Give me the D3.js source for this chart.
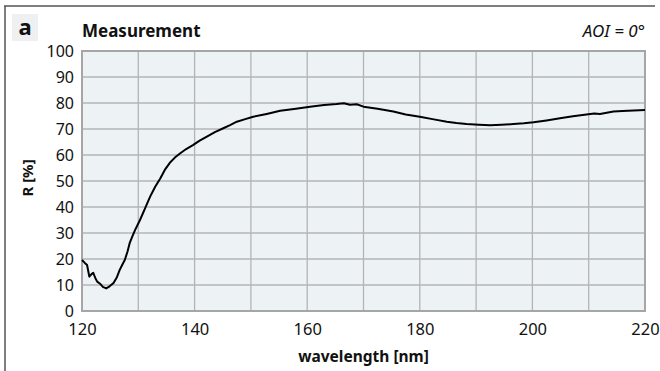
<!DOCTYPE html>
<html>
<head>
<meta charset="utf-8">
<script src="https://cdn.jsdelivr.net/npm/d3@7"></script>
<style>
  body { margin: 0; background: #fff; }
  svg { display: block; font-family: 'Noto Sans', 'Open Sans', sans-serif; }
</style>
</head>
<body>
<script>
// wavelength in nm, reflectance in %
const wavelength = [120, 120.5, 120.9, 121.3, 121.7, 122.0, 122.4, 122.7, 123.2, 123.7, 124.3, 124.9, 125.6, 126.2, 126.7, 127.2, 127.6, 128.1, 128.5, 129.0, 129.4, 130.3, 131.2, 132.1, 133.0, 133.9, 134.8, 135.6, 136.5, 137.4, 138.5, 139.7, 140.9, 142.1, 143.6, 145.1, 146.3, 147.5, 149.0, 150.4, 152.8, 155.2, 158.0, 160.5, 163.0, 165.2, 166.5, 167.6, 168.8, 170.0, 172.5, 175.3, 177.5, 180.0, 182.5, 184.8, 186.5, 188.3, 190.5, 192.5, 194.5, 196.6, 198.5, 200.2, 202.5, 204.9, 207.2, 209.6, 211.0, 212.0, 214.4, 216.0, 218.0, 220.0]
const reflectance = [19.6, 18.5, 17.7, 13.2, 14.2, 14.7, 12.5, 11.3, 10.5, 9.3, 8.7, 9.5, 10.8, 13.0, 15.8, 18.0, 19.6, 23.0, 26.3, 29.0, 31.0, 35.0, 39.5, 44.0, 47.8, 51.0, 54.6, 57.0, 59.0, 60.6, 62.3, 63.8, 65.5, 67.0, 68.8, 70.3, 71.5, 72.8, 73.8, 74.7, 75.8, 77.0, 77.8, 78.6, 79.2, 79.6, 79.9, 79.3, 79.5, 78.6, 77.8, 76.7, 75.6, 74.7, 73.7, 72.8, 72.3, 71.9, 71.6, 71.4, 71.6, 71.9, 72.2, 72.6, 73.3, 74.1, 74.9, 75.6, 76.0, 75.8, 76.7, 76.9, 77.1, 77.3]
const xTicks = [120, 140, 160, 180, 200, 220]
const xGrid = [130, 150, 170, 190, 210]
const yTicks = [0, 10, 20, 30, 40, 50, 60, 70, 80, 90, 100]

const width = 660
const height = 371
const plotL = 82, plotR = 645, plotT = 51, plotB = 311

const svg = d3.select('body').append('svg')
  .attr('width', width)
  .attr('height', height)

// frame
svg.append('line').attr('x1', 4).attr('x2', 655).attr('y1', 6).attr('y2', 6)
  .style('stroke', '#555').style('stroke-width', 1.5)
svg.append('line').attr('x1', 5).attr('x2', 5).attr('y1', 6).attr('y2', height)
  .style('stroke', '#555').style('stroke-width', 1.5)

// panel letter
svg.append('rect').attr('x', 12).attr('y', 14).attr('width', 26).attr('height', 27)
  .style('fill', '#eef0f2')
svg.append('text').attr('x', 25).attr('y', 35).text('a')
  .style('font-size', '22px').style('font-weight', 700).style('text-anchor', 'middle').style('fill', '#111')

svg.append('text').attr('x', 82).attr('y', 37).text('Measurement')
  .style('font-size', '17px').style('font-weight', 700).style('fill', '#111')
svg.append('text').attr('x', 645).attr('y', 37).text('AOI = 0°')
  .style('font-size', '17px').style('font-style', 'italic').style('text-anchor', 'end').style('fill', '#111')

const x = d3.scaleLinear().domain([120, 220]).range([plotL, plotR])
const y = d3.scaleLinear().domain([0, 100]).range([plotB, plotT])

svg.append('rect')
  .attr('x', plotL).attr('y', plotT)
  .attr('width', plotR - plotL).attr('height', plotB - plotT)
  .style('fill', '#edf2f5')

const grid = svg.append('g').style('stroke', '#b4b4b4').style('stroke-width', 1.3)
grid.selectAll('.gx').data(xTicks.concat(xGrid)).enter().append('line')
  .attr('x1', d => x(d)).attr('x2', d => x(d)).attr('y1', plotT).attr('y2', plotB)
grid.selectAll('.gy').data(yTicks).enter().append('line')
  .attr('x1', plotL).attr('x2', plotR).attr('y1', d => y(d)).attr('y2', d => y(d))

svg.append('rect')
  .attr('x', plotL).attr('y', plotT)
  .attr('width', plotR - plotL).attr('height', plotB - plotT)
  .style('fill', 'none').style('stroke', '#a6a6a6').style('stroke-width', 2)

const xAxis = svg.append('g')
  .attr('transform', `translate(0, ${plotB + 10})`)
  .call(d3.axisBottom(x).tickValues(xTicks).tickSize(0).tickPadding(2))
xAxis.select('.domain').remove()
xAxis.selectAll('text').style('font-size', '16.5px').style('fill', '#111')
  .style('font-family', "'Noto Sans', sans-serif")

const yAxis = svg.append('g')
  .attr('transform', `translate(${plotL - 8}, 0)`)
  .call(d3.axisLeft(y).tickValues(yTicks).tickSize(0).tickPadding(0))
yAxis.select('.domain').remove()
yAxis.selectAll('text').style('font-size', '16px').style('fill', '#111')
  .style('font-family', "'Noto Sans', sans-serif")

svg.append('text').attr('x', (plotL + plotR) / 2).attr('y', 362).text('wavelength [nm]')
  .style('font-size', '15.5px').style('font-weight', 700).style('text-anchor', 'middle').style('fill', '#111')
svg.append('text')
  .attr('transform', `translate(33, ${(plotT + plotB) / 2 - 3}) rotate(-90)`)
  .text('R [%]')
  .style('font-size', '15px').style('font-weight', 700).style('text-anchor', 'middle').style('fill', '#111')

const line = d3.line()
  .x((d, i) => x(wavelength[i]))
  .y(d => y(d))
  .curve(d3.curveLinear)

svg.append('path')
  .datum(reflectance)
  .attr('d', line)
  .style('fill', 'none')
  .style('stroke', '#000')
  .style('stroke-width', 2)
  .style('stroke-linejoin', 'round')
</script>
</body>
</html>
